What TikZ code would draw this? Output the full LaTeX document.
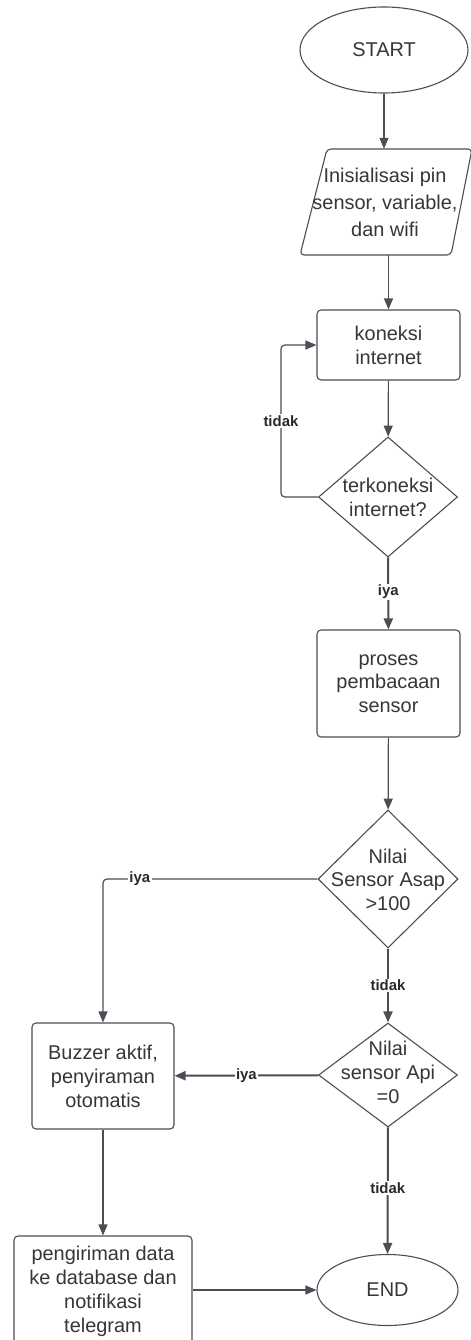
\documentclass[tikz,border=0pt]{standalone}
\usepackage{fontspec}
\setmainfont{Liberation Sans}
\usetikzlibrary{shapes.geometric,arrows.meta}
\definecolor{ln}{HTML}{4A4E55}
\definecolor{tx}{HTML}{363636}
\definecolor{lb}{HTML}{2A2A2A}
\begin{document}
\begin{tikzpicture}[x=1bp,y=-1bp,
  every node/.style={text=tx, font=\fontsize{20}{24}\selectfont, align=center, inner sep=0pt},
  box/.style={draw=ln, line width=1.1bp, rounded corners=4bp, rectangle},
  term/.style={draw=ln, line width=1.1bp, ellipse},
  dec/.style={draw=ln, line width=1.1bp, diamond},
  arr/.style={draw=ln, line width=1.2bp, -{Triangle[length=11bp,width=9bp]}},
  arrT/.style={arr, line width=2bp},
  lbl/.style={fill=white, text=lb, font=\bfseries\fontsize{15}{18}\selectfont, inner sep=1.5bp}]
\fill[white] (0,0) rectangle (471,1340);
\useasboundingbox (0,0) rectangle (471,1340);

% nodes
\node[term, minimum width=168bp, minimum height=86bp] (start) at (384,50) {START};

\draw[draw=ln, line width=1.1bp, rounded corners=4bp]
  (327,149) -- (472,149) -- (451,255) -- (300,255) -- cycle;
\node[minimum width=150bp, minimum height=106bp, font=\fontsize{20}{27}\selectfont] (init) at (385,202) {Inisialisasi pin\\sensor, variable,\\dan wifi};

\node[box, minimum width=143bp, minimum height=70bp] (kon) at (388.5,345) {koneksi\\internet};

\node[dec, minimum width=139bp, minimum height=120bp] (d1) at (388,497) {};
\node (d1t) at (388,497) {terkoneksi\\internet?};

\node[box, minimum width=143bp, minimum height=107bp, font=\fontsize{20}{23.5}\selectfont] (pro) at (388.5,683.5) {proses\\pembacaan\\sensor};

\node[dec, minimum width=140bp, minimum height=138bp] (d2) at (388,879) {};
\node[font=\fontsize{20}{23.5}\selectfont] (d2t) at (388,879.5) {Nilai\\Sensor Asap\\>100};

\node[dec, minimum width=139bp, minimum height=104bp] (d3) at (388,1075) {};
\node[font=\fontsize{20}{24}\selectfont] (d3t) at (388,1072) {Nilai\\sensor Api\\=0};

\node[box, minimum width=142bp, minimum height=106bp] (buz) at (103,1076) {Buzzer aktif,\\penyiraman\\otomatis};

\node[box, minimum width=178bp, minimum height=110bp] (peng) at (103,1291) {pengiriman data\\ke database dan\\notifikasi\\telegram};

\node[term, minimum width=141bp, minimum height=71bp] (end) at (387.5,1290) {END};

% connectors
\draw[arr] (start) -- (start |- init.north);
\draw[arr] (kon |- init.south) -- (kon);
\draw[arr] (kon) -- (d1);
\draw[arr, rounded corners=4bp] (d1.west) -- ++(-37,0) |- node[lbl, pos=0.25] {tidak} (kon.west);
\draw[arrT] (d1) -- node[lbl, pos=0.48] {iya} (pro);
\draw[arr] (pro) -- (d2);
\draw[arr, rounded corners=4bp] (d2.west) -| node[lbl, pos=0.414] {iya} (buz.north);
\draw[arrT] (d2) -- node[lbl] {tidak} (d3);
\draw[arrT] (d3) -- node[lbl, pos=0.5] {iya} (buz);
\draw[arrT] (d3) -- node[lbl, pos=0.48] {tidak} (end);
\draw[arr] (buz) -- (peng);
\draw[arr] (peng.east |- end.west) -- (end.west);
\end{tikzpicture}
\end{document}
